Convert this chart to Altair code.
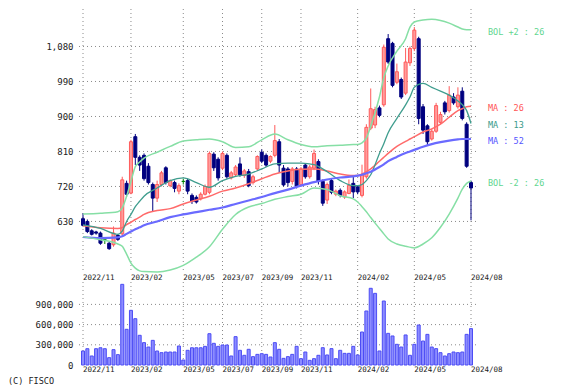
import altair as alt
import pandas as pd

# ---------------- data ----------------
weeks = list(range(90))
opens = [637, 630, 606, 603, 600, 583, 574, 570, 594, 598,
         728, 703, 848, 795, 800, 772, 725, 690, 725, 768,
         722, 730, 708, 733, 735, 697, 692, 688, 700, 705,
         803, 790, 767, 800, 742, 750, 778, 748, 758, 730,
         765, 808, 800, 785, 800, 835, 767, 765, 733, 765,
         725, 775, 745, 767, 784, 733, 685, 735, 700, 710,
         693, 702, 728, 719, 697, 745, 870, 878, 922, 930,
         1100, 1088, 988, 995, 960, 1038, 1075, 1100, 925, 876,
         842, 862, 885, 935, 915, 950, 925, 965, 880, 730]
highs = [651, 635, 610, 606, 604, 590, 578, 617, 598, 745,
         735, 840, 855, 800, 805, 780, 730, 735, 760, 772,
         738, 735, 728, 740, 740, 702, 697, 705, 725, 810,
         808, 795, 810, 805, 760, 775, 795, 765, 765, 750,
         800, 815, 805, 800, 878, 842, 775, 770, 770, 770,
         770, 780, 775, 815, 790, 738, 730, 740, 712, 715,
         710, 738, 745, 722, 776, 880, 972, 925, 928, 1085,
         1112, 1092, 1036, 1000, 1076, 1080, 1130, 1105, 932, 880,
         868, 935, 912, 940, 978, 960, 975, 975, 885, 735]
lows = [617, 600, 594, 596, 570, 572, 557, 565, 580, 595,
        693, 700, 775, 760, 735, 725, 655, 680, 720, 725,
        718, 705, 700, 725, 700, 675, 676, 684, 697, 700,
        760, 735, 762, 740, 738, 745, 745, 742, 718, 725,
        760, 780, 770, 780, 795, 755, 720, 720, 725, 715,
        720, 740, 740, 762, 725, 670, 675, 700, 695, 692,
        688, 700, 690, 700, 692, 740, 865, 870, 898, 925,
        1035, 975, 983, 945, 955, 1030, 1068, 880, 855, 825,
        838, 858, 880, 905, 910, 930, 920, 890, 768, 633]
closes = [620, 604, 597, 600, 574, 583, 560, 600, 584, 737,
          700, 835, 795, 775, 740, 730, 690, 725, 755, 730,
          735, 715, 722, 733, 708, 682, 680, 700, 720, 805,
          768, 742, 805, 745, 755, 770, 750, 760, 722, 745,
          797, 785, 775, 797, 838, 775, 724, 730, 765, 720,
          765, 745, 770, 805, 733, 677, 725, 705, 708, 697,
          706, 723, 706, 706, 750, 872, 920, 918, 903, 1078,
          1040, 980, 1015, 950, 1040, 1075, 1122, 895, 865, 835,
          862, 928, 905, 912, 955, 935, 955, 895, 772, 716]
volumes = [208000, 242000, 134000, 242000, 256000, 242000, 109000, 228000, 154000, 1198000,
           530000, 812000, 688000, 441000, 332000, 267000, 366000, 208000, 183000, 193000,
           193000, 193000, 282000, 74000, 218000, 256000, 256000, 256000, 277000, 465000,
           322000, 277000, 297000, 297000, 134000, 421000, 218000, 144000, 233000, 124000,
           158000, 168000, 158000, 119000, 332000, 233000, 99000, 124000, 158000, 277000,
           94000, 193000, 69000, 94000, 144000, 257000, 149000, 243000, 94000, 218000,
           173000, 173000, 277000, 149000, 490000, 802000, 1139000, 1064000, 208000, 950000,
           470000, 431000, 307000, 267000, 446000, 144000, 307000, 594000, 356000, 455000,
           267000, 243000, 183000, 134000, 168000, 193000, 183000, 193000, 455000, 540000]

line_idx = [0, 4, 8, 9, 10, 11, 12, 13, 14, 17, 20, 23, 26, 29, 32, 35, 38, 41, 44, 47,
            50, 53, 56, 59, 62, 63, 64, 65, 66, 68, 69, 70, 72, 74, 75, 76, 78, 80, 82, 84,
            86, 87, 88, 89]
ma13 = [621, 612, 597, 605, 630, 648, 668, 682, 695, 716, 735, 742, 730, 718, 735, 746, 752, 765, 778, 780,
        780, 776, 758, 735, 722, 722, 725, 735, 750, 805, 830, 858, 895, 930, 950, 975, 985, 975, 965, 955,
        940, 930, 915, 882]
ma26 = [619, 614, 612, 614, 622, 628, 635, 641, 648, 658, 663, 675, 685, 695, 708, 716, 727, 740, 752, 760,
        764, 765, 760, 752, 748, 748, 752, 758, 765, 785, 795, 805, 823, 836, 842, 848, 860, 868, 880, 898,
        915, 920, 925, 926]
ma52 = [590, 587, 589, 592, 598, 604, 610, 615, 620, 630, 641, 648, 654, 660, 666, 675, 684, 693, 703, 712,
        722, 731, 738, 743, 746, 748, 750, 754, 758, 770, 777, 785, 796, 806, 810, 814, 822, 829, 834, 838,
        841, 842, 842, 842]
bol_up = [649, 651, 655, 665, 695, 733, 771, 783, 793, 808, 823, 837, 840, 842, 835, 820, 822, 840, 855, 840,
          828, 822, 825, 826, 828, 828, 832, 845, 875, 950, 1000, 1030, 1068, 1100, 1130, 1143, 1148, 1150, 1147, 1140,
          1130, 1125, 1123, 1123]
bol_lo = [591, 583, 572, 566, 546, 523, 510, 503, 501, 500, 505, 517, 538, 565, 610, 648, 667, 676, 687, 694,
          700, 716, 712, 696, 688, 680, 668, 655, 640, 612, 598, 585, 572, 566, 564, 562, 572, 588, 615, 649,
          690, 713, 728, 734]

tick_idx = [0, 11, 23, 32, 41, 50, 63, 76, 89]
tick_lbl = ["2022/11", "2023/02", "2023/05", "2023/07", "2023/09",
            "2023/11", "2024/02", "2024/05", "2024/08"]
price_ticks = [630, 720, 810, 900, 990, 1080]
vol_ticks = [300000, 600000, 900000]

series_names = ["BOL +2 : 26", "MA : 26", "MA : 13", "MA : 52", "BOL -2 : 26"]
series_vals = [bol_up, ma26, ma13, ma52, bol_lo]
series_line = ["#86dfa5", "#ff6a6a", "#3f9d8e", "#6a6aff", "#86dfa5"]
series_text = ["#5fd68f", "#ff5555", "#3a9a8a", "#5555ff", "#5fd68f"]
series_width = [1.5, 1.5, 1.3, 2.2, 1.5]

# ---------------- frames ----------------
def direction(o, c):
    if c > o:
        return "up"
    if c < o:
        return "down"
    return "flat"

candles = pd.DataFrame({
    "i": weeks, "open": opens, "high": highs, "low": lows, "close": closes,
    "dir": [direction(o, c) for o, c in zip(opens, closes)],
})
vol_df = pd.DataFrame({"i": weeks, "v": volumes})
vtick_df = pd.DataFrame({"i": tick_idx, "lbl": tick_lbl})

MONO = "DejaVu Sans Mono"
W, H_P, H_V = 398, 263, 83
GRID = "#8a8a8a"

x_scale = alt.Scale(domain=[0, 89], nice=False, zero=False)
X = alt.X("i:Q", scale=x_scale, axis=None)

p_scale = alt.Scale(domain=[500, 1176.4], nice=False, zero=False)
p_axis = alt.Axis(values=price_ticks, format=",d", grid=False, domain=False, ticks=False,
                  labelFont=MONO, labelFontSize=9, labelColor="#222", labelPadding=5, title=None)
v_scale = alt.Scale(domain=[0, 1232600], nice=False, zero=True)
v_axis = alt.Axis(values=[0] + vol_ticks, format=",d", grid=False, domain=False, ticks=False,
                  labelFont=MONO, labelFontSize=9, labelColor="#222", labelPadding=5, title=None)

dir_dom = ["up", "down", "flat"]
fill_scale = alt.Scale(domain=dir_dom, range=["#ff9c9c", "#00007f", "#008000"])
stroke_scale = alt.Scale(domain=dir_dom, range=["#ff5a5a", "#00007f", "#008000"])


def vgrid(h):
    return alt.Chart(vtick_df).mark_rule(strokeDash=[1, 3], color=GRID, strokeWidth=1).encode(
        x=X, y=alt.value(0), y2=alt.value(h)
    )


def date_labels(h, pad):
    return alt.Chart(vtick_df).mark_text(
        align="left", baseline="top", font=MONO, fontSize=7.5, color="#222"
    ).encode(x=X, y=alt.value(h + pad), text="lbl:N")


# ---------------- price pane ----------------
hgrid = alt.Chart(pd.DataFrame({"p": price_ticks})).mark_rule(
    strokeDash=[1, 3], color=GRID, strokeWidth=1
).encode(y=alt.Y("p:Q", scale=p_scale, axis=p_axis))

wicks = alt.Chart(candles).mark_rule(strokeWidth=1).encode(
    x=X,
    y=alt.Y("low:Q", scale=p_scale, axis=p_axis),
    y2="high:Q",
    color=alt.Color("dir:N", scale=stroke_scale, legend=None),
)
bodies = alt.Chart(candles).mark_bar(size=3, strokeWidth=1).encode(
    x=X,
    y=alt.Y("open:Q", scale=p_scale, axis=p_axis),
    y2="close:Q",
    fill=alt.Fill("dir:N", scale=fill_scale, legend=None),
    stroke=alt.Stroke("dir:N", scale=stroke_scale, legend=None),
)

line_layers = []
for name, vals, col, sw in zip(series_names, series_vals, series_line, series_width):
    df = pd.DataFrame({"i": line_idx, "v": vals})
    line_layers.append(
        alt.Chart(df).mark_line(color=col, strokeWidth=sw, interpolate="monotone").encode(
            x=X, y=alt.Y("v:Q", scale=p_scale, axis=p_axis)
        )
    )

lab_df = pd.DataFrame({
    "name": series_names,
    "v": [vals[-1] for vals in series_vals],
    "col": series_text,
})
labels = alt.Chart(lab_df).mark_text(
    align="left", baseline="middle", font=MONO, fontSize=8.5, dy=2
).encode(
    x=alt.value(W + 12),
    y=alt.Y("v:Q", scale=p_scale, axis=p_axis),
    text="name:N",
    color=alt.Color("col:N", scale=None),
)

price = alt.layer(vgrid(H_P), hgrid, wicks, bodies, *line_layers, labels,
                  date_labels(H_P, 2)).properties(width=W, height=H_P)

# ---------------- volume pane ----------------
hgrid_v = alt.Chart(pd.DataFrame({"v": vol_ticks})).mark_rule(
    strokeDash=[1, 3], color=GRID, strokeWidth=1
).encode(y=alt.Y("v:Q", scale=v_scale, axis=v_axis))

vbars = alt.Chart(vol_df).mark_bar(size=3, fill="#8c8cff", stroke="#4c4cf5", strokeWidth=1).encode(
    x=X, y=alt.Y("v:Q", scale=v_scale, axis=v_axis)
)

copy = alt.Chart(pd.DataFrame({"t": ["(C) FISCO"]})).mark_text(
    align="left", baseline="middle", font=MONO, fontSize=8.5, color="#222"
).encode(x=alt.value(-70), y=alt.value(H_V + 16), text="t:N")

volume = alt.layer(vgrid(H_V), hgrid_v, vbars, copy, date_labels(H_V, 1)).properties(
    width=W, height=H_V
)

chart = alt.vconcat(price, volume, spacing=10, bounds="flush").properties(
    padding={"left": 0, "top": 0, "right": 5, "bottom": 0},
    background="white",
).configure_view(stroke=None)

chart.save("out.html", embed_options={"renderer": "svg", "actions": False})
